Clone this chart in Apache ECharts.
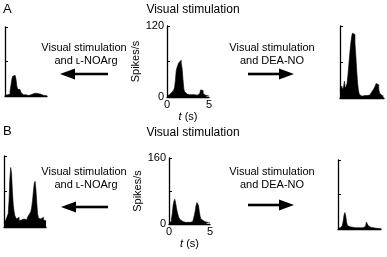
<!DOCTYPE html>
<html><head><meta charset="utf-8">
<script src="https://cdn.jsdelivr.net/npm/echarts@6/dist/echarts.min.js"></script>
<style>html,body{margin:0;padding:0;background:#fff}#c{width:387px;height:257px}</style>
</head><body><div id="c"></div>
<script>
// bin width 0.1 s, 0..5 s
const binWidth = 0.1;
const xTicks = [0, 5];
const yMaxA = 120, yMaxB = 160;
const panelA_NOArg   = [1,1,2,2,3,3,8,18,28,34,36,36,34,30,18,12,11,11,9,6,3,2,2,1,2,1,2,1,2,2,2,2,3,4,5,5,5,5,5,4,4,4,3,2,1,1,1,1,1,1];
const panelA_control = [2,3,4,6,7,8,10,10,12,16,28,45,50,54,58,61,62,57,48,30,14,9,6,5,6,5,4,5,4,4,4,3,4,3,4,3,4,5,6,9,12,14,11,6,4,3,3,2,2,2];
const panelA_DEANO   = [12,16,20,14,18,28,16,18,24,38,55,72,88,100,108,110,106,92,70,45,25,12,6,4,3,4,3,4,4,5,4,5,4,5,6,8,10,12,14,16,20,24,25,22,15,8,5,4,3,3];
const panelB_NOArg   = [10,12,15,20,22,30,60,110,134,120,80,50,35,25,22,18,15,22,14,18,16,20,14,18,15,20,16,18,22,25,28,30,35,45,60,80,98,103,85,55,30,20,16,18,15,20,22,16,18,14];
const panelB_control = [3,4,6,12,25,45,55,60,52,40,30,22,15,12,10,8,6,5,5,4,4,3,4,3,3,4,5,6,6,9,14,22,32,45,52,55,45,30,18,12,9,8,6,5,5,4,6,4,3,3];
const panelB_DEANO   = [2,3,3,4,5,8,18,32,38,30,15,8,6,5,4,5,4,3,4,3,3,2,3,2,2,3,2,2,3,3,4,6,10,16,14,8,6,4,5,4,3,2,3,2,2,2,1,1,1,1];

const FONT = 'Liberation Sans, Arial, sans-serif';
const grids = [
  {left:5,   top:27,  width:42, height:69},
  {left:167, top:26,  width:42, height:71},
  {left:340, top:26,  width:44, height:72},
  {left:4,   top:156, width:42, height:71},
  {left:169, top:158, width:41, height:66},
  {left:338, top:160, width:43, height:69}
];
const seriesData = [panelA_NOArg, panelA_control, panelA_DEANO, panelB_NOArg, panelB_control, panelB_DEANO];
const maxes = [yMaxA,yMaxA,yMaxA,yMaxB,yMaxB,yMaxB];
const centers = [1,4];

function toSteps(vals){
  const out = vals.map((v,i)=>[+(i*binWidth).toFixed(2), v]);
  out.push([5, vals[vals.length-1]]);
  return out;
}

const xAxis = grids.map((g,i)=>({
  gridIndex:i, type:'value', min:0, max:5, interval:5,
  axisLine:{show:true, lineStyle:{color:'#000', width:1.3}},
  axisTick:{show:false},
  splitLine:{show:false},
  axisLabel:{show:centers.includes(i), color:'#000', fontFamily:FONT, fontSize:11, margin:2,
    formatter:v=> xTicks.includes(v)? String(v):''},
  name: centers.includes(i)? '{i|t} (s)':'',
  nameLocation:'middle', nameGap:14,
  nameTextStyle:{color:'#000', fontFamily:FONT, fontSize:11, rich:{i:{fontStyle:'italic', fontFamily:FONT, fontSize:11, color:'#000'}}}
}));
const yAxis = grids.map((g,i)=>({
  gridIndex:i, type:'value', min:0, max:maxes[i], interval:maxes[i]/2,
  axisLine:{show:true, lineStyle:{color:'#000', width:1.3}},
  axisTick:{show:true, inside:true, length:3, lineStyle:{color:'#000', width:1}},
  splitLine:{show:false},
  axisLabel:{show:centers.includes(i), color:'#000', fontFamily:FONT, fontSize:11, margin:3,
    formatter:v=> (v===0||v===maxes[i])? String(v):''},
  name: centers.includes(i)? 'Spikes/s':'',
  nameLocation:'middle', nameGap:10, nameRotate:90,
  nameTextStyle:{color:'#000', fontFamily:FONT, fontSize:11}
}));
const series = seriesData.map((d,i)=>({
  type:'line', xAxisIndex:i, yAxisIndex:i, step:'end', symbol:'none',
  data: toSteps(d), silent:true,
  lineStyle:{color:'#000', width:0.6},
  areaStyle:{color:'#000', opacity:1}
}));

function txt(x,y,s,size,align){
  return {type:'text', x:x, y:y, style:{text:s, fill:'#000', font:size+'px '+FONT, textAlign:align||'center', textVerticalAlign:'middle'}};
}
function arrow(x1,x2,y){ // from x1 (tail) to x2 (head)
  const dir = x2>x1?1:-1;
  const hl = 15, hw = 5.5;
  const xb = x2 - dir*hl;
  return [
    {type:'line', shape:{x1:x1, y1:y, x2:xb, y2:y}, style:{stroke:'#000', lineWidth:2.6}},
    {type:'polygon', shape:{points:[[x2,y],[xb,y-hw],[xb,y+hw]]}, style:{fill:'#000'}}
  ];
}
const graphic = [
  txt(3,9,'A',13,'left'),
  txt(193,10,'Visual stimulation',12),
  txt(84,48,'Visual stimulation',11),
  txt(86,61,'and \u029F-NOArg',11),
  txt(272,48,'Visual stimulation',11),
  txt(272,61,'and DEA-NO',11),
  ...arrow(108,60,74),
  ...arrow(248,294,74),
  txt(3,131,'B',13,'left'),
  txt(193,133,'Visual stimulation',12),
  txt(84,172,'Visual stimulation',11),
  txt(86,185,'and \u029F-NOArg',11),
  txt(272,172,'Visual stimulation',11),
  txt(272,185,'and DEA-NO',11),
  ...arrow(108,61,207),
  ...arrow(248,294,205)
];

const chart = echarts.init(document.getElementById('c'), null, {renderer:'canvas'});
chart.setOption({
  animation:false,
  backgroundColor:'#fff',
  grid: grids,
  xAxis: xAxis,
  yAxis: yAxis,
  series: series,
  graphic: graphic
});
</script></body></html>
